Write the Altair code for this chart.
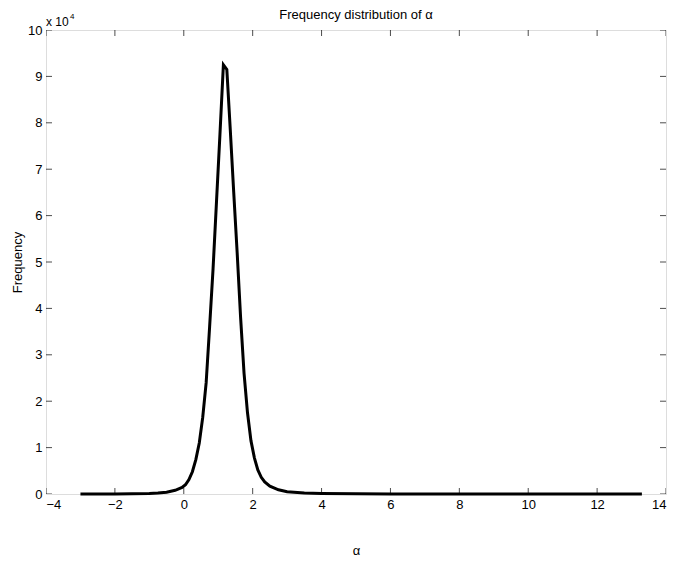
import altair as alt
import pandas as pd

# Curve values (alpha, frequency)
alpha_vals = [-3.0, -2.5, -2.0, -1.5, -1.0, -0.75, -0.5, -0.25, -0.05, 0.05, 0.15, 0.25,
              0.35, 0.45, 0.55, 0.65, 0.75, 0.85, 0.95, 1.05, 1.15, 1.25, 1.35, 1.45,
              1.55, 1.65, 1.75, 1.85, 1.95, 2.05, 2.15, 2.25, 2.35, 2.5, 2.75, 3.0,
              3.5, 4.0, 5.0, 6.0, 8.0, 10.0, 12.0, 13.3]
freq_vals = [0, 0, 10, 30, 100, 200, 400, 800, 1400, 2000, 3100, 4800,
             7400, 11000, 16500, 24000, 36000, 48500, 63000, 77500, 92500, 91500, 78500, 65000,
             52000, 38000, 26000, 17500, 11500, 7800, 5200, 3600, 2600, 1700, 900, 500,
             200, 100, 40, 20, 10, 5, 3, 0]

x_ticks = [-4, -2, 0, 2, 4, 6, 8, 10, 12, 14]
y_ticks = [0, 10000, 20000, 30000, 40000, 50000, 60000, 70000, 80000, 90000, 100000]

title_text = "Frequency distribution of α"
FONT = "Liberation Sans"
W, H = 620, 464

df = pd.DataFrame({"alpha": alpha_vals, "freq": freq_vals})
xt = pd.DataFrame({"t": x_ticks})
yt = pd.DataFrame({"t": y_ticks})

xscale = alt.Scale(domain=[-4, 14], nice=False, zero=False)
yscale = alt.Scale(domain=[0, 100000], nice=False)

line = alt.Chart(df).mark_line(color="black", strokeWidth=3).encode(
    x=alt.X("alpha:Q", scale=xscale,
            axis=alt.Axis(values=x_ticks, title="α", ticks=False, grid=False,
                          labelPadding=4, titlePadding=33, domain=False,
                          labelFont=FONT, labelFontSize=13, labelColor="black",
                          titleFont=FONT, titleFontSize=13, titleColor="black",
                          titleFontWeight="normal")),
    y=alt.Y("freq:Q", scale=yscale,
            axis=alt.Axis(values=y_ticks, title="Frequency", ticks=False, grid=False,
                          labelExpr="datum.value / 10000", labelPadding=4,
                          titlePadding=3, domain=False,
                          labelFont=FONT, labelFontSize=13, labelColor="black",
                          titleFont=FONT, titleFontSize=13, titleColor="black",
                          titleFontWeight="normal")),
)

tick_style = dict(color="black", thickness=1, size=12, clip=True)

bottom_ticks = alt.Chart(xt).mark_tick(orient="vertical", **tick_style).encode(
    x=alt.X("t:Q", scale=xscale), y=alt.datum(0))
top_ticks = alt.Chart(xt).mark_tick(orient="vertical", **tick_style).encode(
    x=alt.X("t:Q", scale=xscale), y=alt.datum(100000))
left_ticks = alt.Chart(yt).mark_tick(orient="horizontal", **tick_style).encode(
    y=alt.Y("t:Q", scale=yscale), x=alt.datum(-4))
right_ticks = alt.Chart(yt).mark_tick(orient="horizontal", **tick_style).encode(
    y=alt.Y("t:Q", scale=yscale), x=alt.datum(14))

title = alt.Chart(pd.DataFrame({"s": [title_text]})).mark_text(
    align="center", baseline="middle", font=FONT, fontSize=13, color="black"
).encode(x=alt.value(W / 2), y=alt.value(-15), text="s:N")
mult = alt.Chart(pd.DataFrame({"s": ["x 10"]})).mark_text(
    align="left", baseline="alphabetic", font=FONT, fontSize=12, color="black"
).encode(x=alt.value(0), y=alt.value(-4), text="s:N")
expo = alt.Chart(pd.DataFrame({"s": ["4"]})).mark_text(
    align="left", baseline="alphabetic", font=FONT, fontSize=8, color="black"
).encode(x=alt.value(24), y=alt.value(-11), text="s:N")

chart = alt.layer(line, bottom_ticks, top_ticks, left_ticks, right_ticks,
                  title, mult, expo).properties(
    width=W, height=H,
    autosize=alt.AutoSizeParams(type="none"),
    padding={"left": 38, "top": 22, "right": 2, "bottom": 62},
).configure_view(stroke="black", strokeWidth=1).configure(background="white")

chart.save("out.html", embed_options={"renderer": "svg", "actions": False})
